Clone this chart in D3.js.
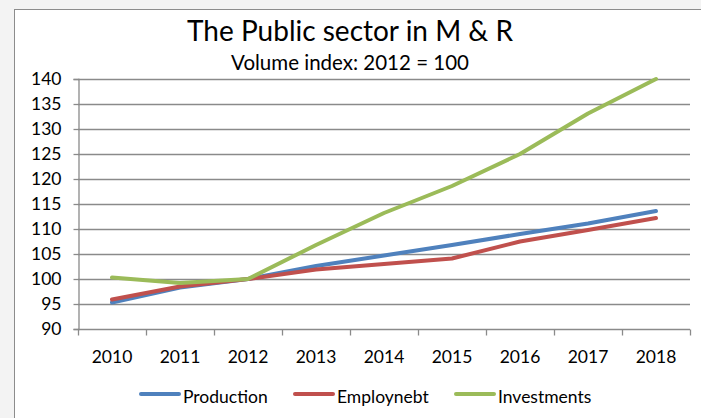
<!DOCTYPE html>
<html>
<head>
<meta charset="utf-8">
<script src="https://cdn.jsdelivr.net/npm/d3@7"></script>
<style>
  html, body { margin: 0; padding: 0; background: #f3f3f3; }
  svg { display: block; }
  text { font-family: Lato, "Open Sans", "DejaVu Sans", sans-serif; fill: #000; }
</style>
</head>
<body>
<svg id="chart" width="701" height="418"></svg>
<script>
// Volume index, 2012 = 100
const years = ["2010", "2011", "2012", "2013", "2014", "2015", "2016", "2017", "2018"];
const production  = [95.3, 98.3, 100, 102.6, 104.7, 106.8, 109.0, 111.1, 113.6];
const employment  = [95.9, 98.5, 100, 101.9, 103.0, 104.1, 107.5, 109.8, 112.2];
const investments = [100.3, 99.2, 100, 106.8, 113.2, 118.6, 125.0, 133.1, 140.0];
const seriesNames = ["Production", "Employnebt", "Investments"];
const seriesColors = ["#4f81bd", "#c0504d", "#9bbb59"];
const yTicks = [90, 95, 100, 105, 110, 115, 120, 125, 130, 135, 140];

const series = [production, employment, investments].map((values, i) => ({
  name: seriesNames[i], color: seriesColors[i], values
}));

const svg = d3.select("#chart");

// chart frame
svg.append("rect")
  .attr("x", 14.5).attr("y", 9.5)
  .attr("width", 720).attr("height", 430)
  .attr("fill", "#fff").attr("stroke", "#8c8c8c").attr("stroke-width", 1);

const plot = { left: 78, right: 690, top: 79, bottom: 329 };

const x = d3.scaleBand().domain(years).range([plot.left, plot.right]).paddingInner(0).paddingOuter(0);
const y = d3.scaleLinear().domain([90, 140]).range([plot.bottom, plot.top]);

// horizontal gridlines
svg.append("g")
  .selectAll("line")
  .data(yTicks.filter(t => t !== 90))
  .join("line")
  .attr("x1", plot.left).attr("x2", plot.right)
  .attr("y1", d => Math.round(y(d)) + 0.5).attr("y2", d => Math.round(y(d)) + 0.5)
  .attr("stroke", "#8a8a8a").attr("stroke-width", 1.3);

// y axis
const yAxis = svg.append("g")
  .attr("transform", `translate(${plot.left + 0.5},0)`)
  .call(d3.axisLeft(y).tickValues(yTicks).tickSize(5).tickPadding(12).tickFormat(d3.format("d")));
yAxis.select(".domain").attr("stroke", "#8a8a8a").attr("stroke-width", 1.3);
yAxis.selectAll(".tick line").attr("stroke", "#8a8a8a").attr("stroke-width", 1.3);
yAxis.selectAll("text").attr("font-size", 17.5).style("font-family", "Lato, sans-serif");

// x axis with tick marks at category boundaries
const xAxisG = svg.append("g").attr("transform", `translate(0,${plot.bottom + 0.5})`);
xAxisG.append("line")
  .attr("x1", plot.left).attr("x2", plot.right)
  .attr("stroke", "#8a8a8a").attr("stroke-width", 1.3);
const boundaries = years.map(d => x(d)).concat([x(years[years.length - 1]) + x.bandwidth()]);
xAxisG.selectAll("line.tick")
  .data(boundaries)
  .join("line")
  .attr("class", "tick")
  .attr("x1", d => Math.round(d) + 0.5).attr("x2", d => Math.round(d) + 0.5)
  .attr("y1", 0).attr("y2", 6)
  .attr("stroke", "#8a8a8a").attr("stroke-width", 1.3);
xAxisG.selectAll("text")
  .data(years)
  .join("text")
  .attr("x", d => x(d) + x.bandwidth() / 2)
  .attr("y", 33)
  .attr("text-anchor", "middle")
  .attr("font-size", 17.5)
  .text(d => d);

// series lines
const line = d3.line()
  .x((d, i) => x(years[i]) + x.bandwidth() / 2)
  .y(d => y(d));

svg.append("g")
  .selectAll("path")
  .data(series)
  .join("path")
  .attr("d", d => line(d.values))
  .attr("fill", "none")
  .attr("stroke", d => d.color)
  .attr("stroke-width", 4)
  .attr("stroke-linejoin", "round")
  .attr("stroke-linecap", "round");

// titles
svg.append("text")
  .attr("x", 350).attr("y", 41)
  .attr("text-anchor", "middle")
  .attr("font-size", 28)
  .text("The Public sector in M & R");
svg.append("text")
  .attr("x", 350).attr("y", 70)
  .attr("text-anchor", "middle")
  .attr("font-size", 20.5)
  .text("Volume index: 2012 = 100");

// legend
const legendX = [140, 294, 455];
const legend = svg.append("g")
  .selectAll("g")
  .data(series)
  .join("g")
  .attr("transform", (d, i) => `translate(${legendX[i]},394)`);
legend.append("line")
  .attr("x1", 1).attr("x2", 39)
  .attr("stroke", d => d.color)
  .attr("stroke-width", 4)
  .attr("stroke-linecap", "round");
legend.append("text")
  .attr("x", 43).attr("y", 9)
  .attr("font-size", 17.5)
  .text(d => d.name);
</script>
</body>
</html>
